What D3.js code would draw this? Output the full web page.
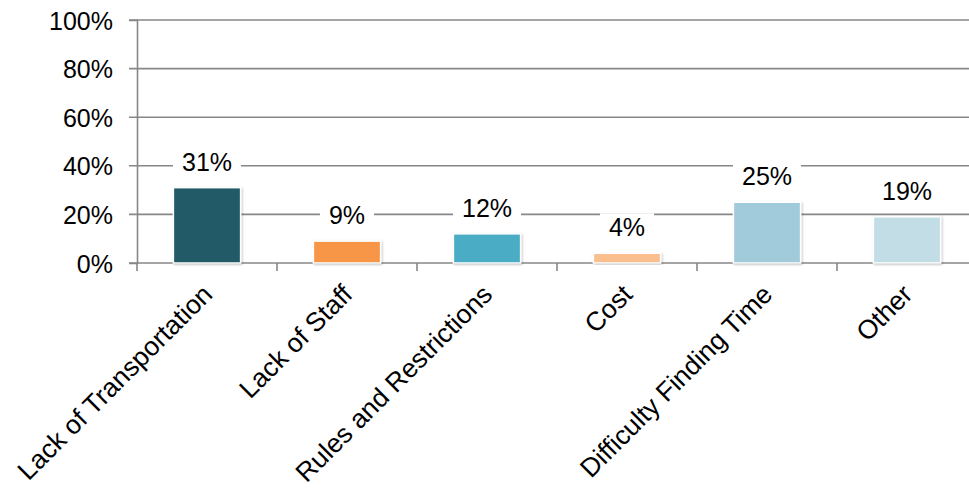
<!DOCTYPE html>
<meta charset="utf-8">
<style>
body { margin: 0; background: #fff; }
text { font-family: "Liberation Sans", Arial, sans-serif; fill: #000; }
</style>
<body>
<script src="https://d3js.org/d3.v7.min.js"></script>
<script>

// data
var categories = ["Lack of Transportation", "Lack of Staff", "Rules and Restrictions", "Cost", "Difficulty Finding Time", "Other"];
var values = [31, 9, 12, 4, 25, 19];
var barColors = ["#235a68", "#f79646", "#4bacc6", "#fbbf8e", "#a1cadb", "#c2dde6"];
var yTicks = [0, 20, 40, 60, 80, 100];

var W = 969, H = 489;
var margin = {top: 20, left: 137, bottom: 226},
    plotW = 840,
    plotH = H - margin.top - margin.bottom;

var svg = d3.select("body").append("svg")
    .attr("width", W)
    .attr("height", H);

var defs = svg.append("defs");
var f = defs.append("filter").attr("id", "shadow")
    .attr("x", "-10%").attr("y", "-10%").attr("width", "130%").attr("height", "130%");
f.append("feDropShadow").attr("dx", 1).attr("dy", 1).attr("stdDeviation", 1.2)
    .attr("flood-color", "#000").attr("flood-opacity", 0.25);

var g = svg.append("g")
    .attr("transform", "translate(" + margin.left + "," + margin.top + ")");

var x = d3.scaleBand().domain(categories).range([0, plotW]).paddingInner(0).paddingOuter(0);
var y = d3.scaleLinear().domain([0, 100]).range([plotH, 0]);

// gridlines (they extend left as the tick marks)
g.selectAll(".grid")
    .data(yTicks)
  .enter().append("line")
    .attr("x1", -8).attr("x2", plotW)
    .attr("y1", function(d) { return y(d); })
    .attr("y2", function(d) { return y(d); })
    .attr("stroke", "#878787")
    .attr("stroke-width", 1.6);

// y axis
var yAxis = g.append("g")
    .call(d3.axisLeft(y).tickValues(yTicks).tickSize(8).tickPadding(16)
        .tickFormat(function(d) { return d + "%"; }));
yAxis.select(".domain").attr("stroke", "#878787").attr("stroke-width", 1.6);
yAxis.selectAll(".tick line").remove();
yAxis.selectAll("text")
    .attr("font-size", 25)
    .attr("font-family", "Liberation Sans, Arial, sans-serif")
    .attr("fill", "#000")
    .attr("dy", "0.36em");

// x axis ticks at category boundaries
var bounds = categories.map(function(c) { return x(c); }).concat([plotW]);
g.selectAll(".xtick")
    .data(bounds)
  .enter().append("line")
    .attr("x1", function(d) { return d; }).attr("x2", function(d) { return d; })
    .attr("y1", plotH).attr("y2", plotH + 8)
    .attr("stroke", "#878787")
    .attr("stroke-width", 1.6);

// bars
var barW = x.bandwidth() * 0.48;
g.selectAll(".bar")
    .data(values)
  .enter().append("rect")
    .attr("x", function(d, i) { return x(categories[i]) + x.bandwidth() / 2 - barW / 2; })
    .attr("y", function(d) { return y(d); })
    .attr("width", barW)
    .attr("height", function(d) { return plotH - y(d); })
    .attr("fill", function(d, i) { return barColors[i]; })
    .attr("stroke", "#fff")
    .attr("stroke-width", 1.5)
    .attr("filter", "url(#shadow)");

// value labels with white background
var lab = g.selectAll(".lab")
    .data(values)
  .enter().append("g")
    .attr("transform", function(d, i) {
        return "translate(" + (x(categories[i]) + x.bandwidth() / 2) + "," + (y(d) - 17) + ")";
    });
lab.append("text")
    .attr("text-anchor", "middle")
    .attr("font-size", 25)
    .text(function(d) { return d + "%"; });
lab.each(function() {
    var t = d3.select(this).select("text");
    var bb = t.node().getBBox();
    d3.select(this).insert("rect", "text")
        .attr("x", bb.x - 9).attr("y", bb.y)
        .attr("width", bb.width + 18).attr("height", bb.height + 4)
        .attr("fill", "#fff");
});

// category labels
g.selectAll(".cat")
    .data(categories)
  .enter().append("text")
    .attr("text-anchor", "end")
    .attr("font-size", 26.5)
    .attr("transform", function(d) {
        return "translate(" + (x(d) + x.bandwidth() / 2 + 7) + "," + (plotH + 33) + ") rotate(-45)";
    })
    .text(function(d) { return d; });

</script>
</body>
